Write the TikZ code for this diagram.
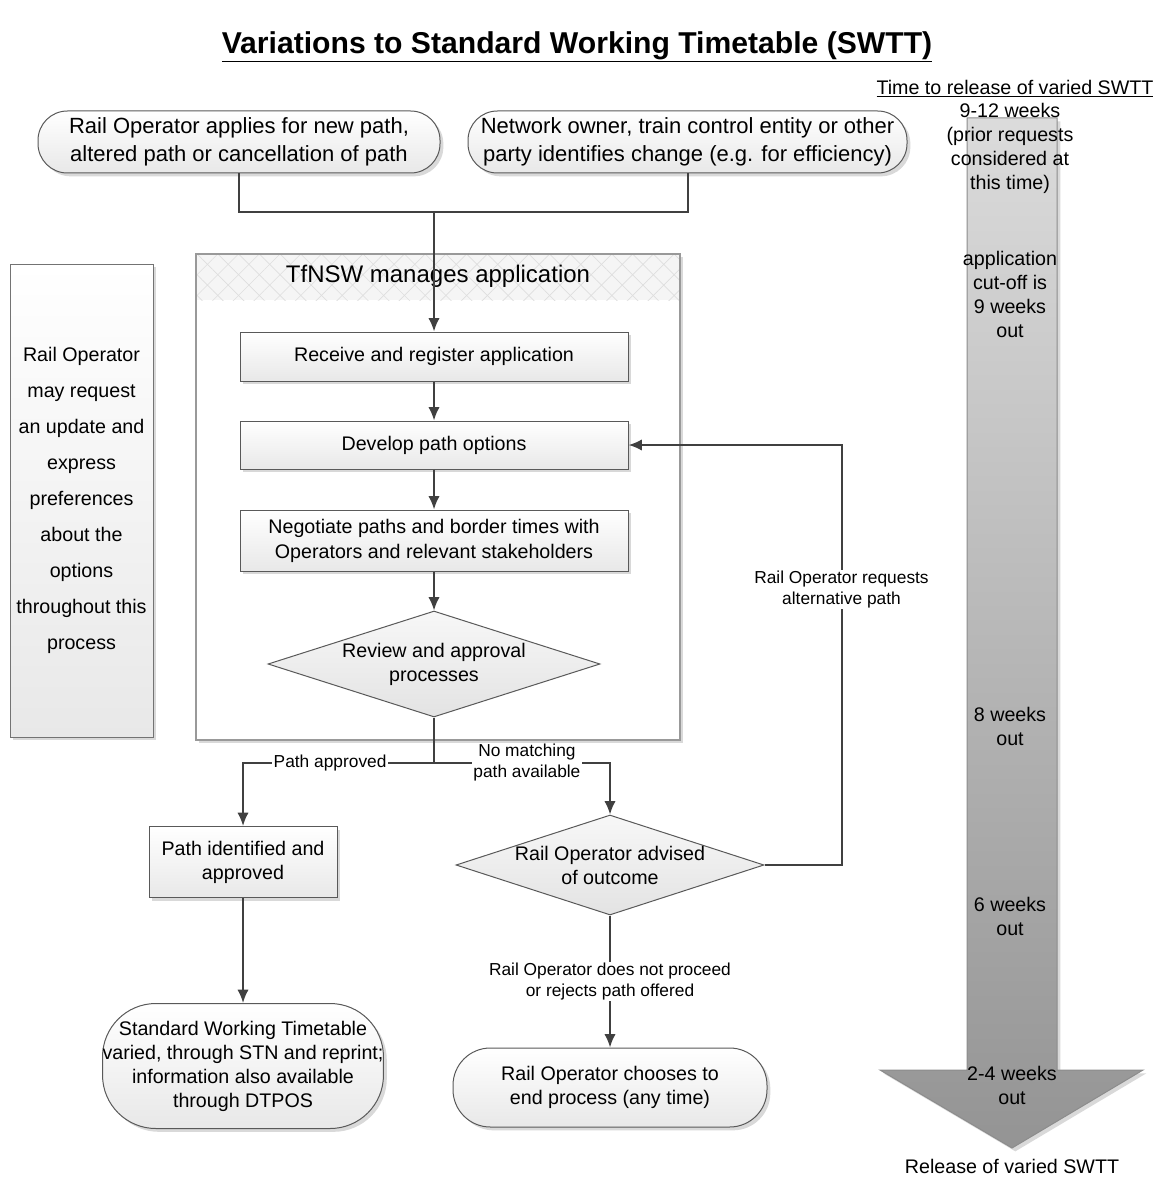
\documentclass[tikz,border=0pt]{standalone}
\usepackage{fontspec}
\setmainfont{Liberation Sans}
\usepackage{tikz}
\usetikzlibrary{arrows.meta,calc,patterns.meta,shapes.geometric,shadows}

\begin{document}
\begin{tikzpicture}[>={Latex[length=10pt,width=8.5pt]}, x=0.75pt, y=-0.75pt]
	\tikzstyle{txt}=[font=\fontsize{14.75}{18}\selectfont, align=center]
	\tikzstyle{shadowed}=[drop shadow={shadow xshift=2.5pt, shadow yshift=-2.5pt, opacity=0.25, fill=black!60}]
	\tikzstyle{process}=[txt, draw=black!65, line width=0.75pt, top color=white, bottom color=black!9, shadowed, inner sep=0pt]
	\tikzstyle{terminal}=[process, rectangle]
	\tikzstyle{decision}=[diamond, draw=black!65, line width=0.75pt, top color=black!3, bottom color=black!11, inner sep=0pt]
	\tikzstyle{line}=[draw=black!75, line width=1.5pt]
	\tikzstyle{flowlabel}=[fill=white, font=\fontsize{13}{15.75}\selectfont, align=center, inner sep=1pt]

	\useasboundingbox (0,0) rectangle (1165,1177);

	\node (title) at (577,47) {\fontsize{22.6}{27}\selectfont\bfseries\underline{Variations to Standard Working Timetable (SWTT)}};

	\path [top color=black!14, bottom color=black!42, draw=black!45, line width=0.75pt, shadowed]
		(967,118) -- (1057,118) -- (1057,1070) -- (1143,1070) -- (1012,1148) -- (880,1070) -- (967,1070) -- cycle;
	\node (timehead) [txt] at (1015,89) {\underline{Time to release of varied SWTT}};
	\node (w12) [txt] at (1010,148.5) {9-12 weeks\\(prior requests\\considered at\\this time)};
	\node (w9) [txt] at (1010,294) {application\\cut-off is\\9 weeks\\out};
	\node (w8) [txt] at (1010,726) {8 weeks\\out};
	\node (w6) [txt] at (1010,916) {6 weeks\\out};
	\node (w24) [txt] at (1012,1085) {2-4 weeks\\out};
	\node (release) [txt] at (1012,1166) {Release of varied SWTT};

	\node (note) [process, draw=black!55, minimum width=107.25pt, minimum height=354.75pt, font=\fontsize{14.75}{27}\selectfont] at (81.5,500.5)
		{Rail Operator\\may request\\an update and\\express\\preferences\\about the\\options\\throughout this\\process};

	\path [fill=white, shadowed] (196,254) rectangle (680,740);
	\fill [black!4] (196,254) rectangle (680,300);
	\path [pattern={Lines[angle=45,distance=11pt,line width=0.5pt]}, pattern color=black!13] (196,254) rectangle (680,300);
	\path [pattern={Lines[angle=-45,distance=11pt,line width=0.5pt]}, pattern color=black!13] (196,254) rectangle (680,300);
	\draw [black!40, line width=1.1pt] (196,254) rectangle (680,740);
	\node (tfnsw) [font=\fontsize{18}{22}\selectfont] at (438,276) {TfNSW manages application};

	\node (apply) [terminal, rounded corners=22pt, minimum width=301.5pt, minimum height=46.5pt, font=\fontsize{16.5}{21}\selectfont] at (239,142)
		{Rail Operator applies for new path,\\altered path or cancellation of path};
	\node (owner) [terminal, rounded corners=22pt, minimum width=329.25pt, minimum height=46.5pt, font=\fontsize{16.5}{21}\selectfont] at (687.5,142)
		{Network owner, train control entity or other\\party identifies change (e.g. for efficiency)};

	\node (recv) [process, minimum width=291pt, minimum height=36.75pt] at (434,356.5) {Receive and register application};
	\node (devel) [process, minimum width=291pt, minimum height=36pt] at (434,445) {Develop path options};
	\node (negot) [process, minimum width=291pt, minimum height=45.75pt, font=\fontsize{14.75}{18.75}\selectfont] at (434,540.5)
		{Negotiate paths and border times with\\Operators and relevant stakeholders};
	\node (review) [decision, minimum width=249pt, minimum height=79.5pt,
		label={[txt]center:{Review and approval\\processes}}] at (434,664) {};

	\node (pathok) [process, minimum width=141pt, minimum height=53.25pt] at (243,862) {Path identified and\\approved};
	\node (swtt) [terminal, rounded corners=40pt, minimum width=200pt, minimum height=93.75pt] at (243,1066)
		{Standard Working Timetable\\varied, through STN and reprint;\\information also available\\through DTPOS};
	\node (advised) [decision, minimum width=231pt, minimum height=75pt,
		label={[txt]center:{Rail Operator advised\\of outcome}}] at (610,865) {};
	\node (ends) [terminal, rounded corners=28pt, minimum width=235.5pt, minimum height=59.25pt] at (610,1087.5)
		{Rail Operator chooses to\\end process (any time)};

	\coordinate (merge) at (434,212);
	\coordinate (split) at (434,763);

	\draw [line] (apply.south) |- (merge) -| (owner.south);
	\draw [line, ->] (merge) -- (recv.north);
	\draw [line, ->] (recv) -- (devel);
	\draw [line, ->] (devel) -- (negot);
	\draw [line, ->] (negot) -- (review.north);
	\draw [line] (review.south) -- (split);
	\draw [line, ->] (split) -| node[flowlabel, pos=0.272] {Path approved} (pathok.north);
	\draw [line, ->] (split) -| node[flowlabel, pos=0.264] {No matching\\path available} (advised.north);
	\draw [line, ->] (pathok) -- (swtt);
	\draw [line, ->] (advised.east) -- ($(advised.east)+(77,0)$) |- node[flowlabel, pos=0.328] {Rail Operator requests\\alternative path} (devel.east);
	\draw [line, ->] (advised.south) -- node[flowlabel, midway] {Rail Operator does not proceed\\or rejects path offered} (ends.north);
\end{tikzpicture}
\end{document}
